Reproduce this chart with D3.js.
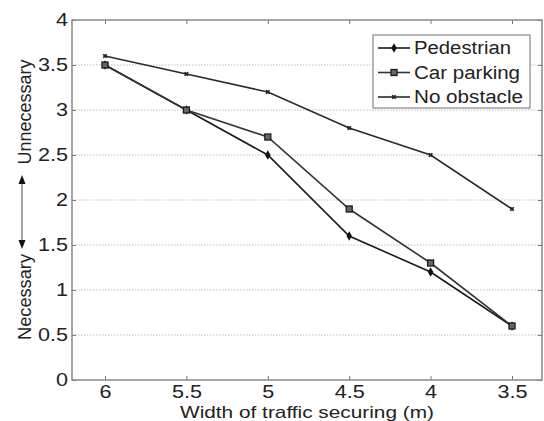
<!DOCTYPE html>
<html><head><meta charset="utf-8">
<script src="https://cdn.jsdelivr.net/npm/d3@7"></script>
<style>body{margin:0;background:#fff}svg{display:block}text{font-family:"Liberation Sans",Arial,sans-serif;fill:#222}</style>
</head><body>
<svg id="c" width="544" height="421"></svg>
<script>
const widths = [6, 5.5, 5, 4.5, 4, 3.5];
const pedestrian = [3.5, 3.0, 2.5, 1.6, 1.2, 0.6];
const carParking = [3.5, 3.0, 2.7, 1.9, 1.3, 0.6];
const noObstacle = [3.6, 3.4, 3.2, 2.8, 2.5, 1.9];
const seriesNames = ["Pedestrian", "Car parking", "No obstacle"];
const yTicks = [0, 0.5, 1, 1.5, 2, 2.5, 3, 3.5, 4];
const xTicks = [6, 5.5, 5, 4.5, 4, 3.5];

const svg = d3.select("#c");
const L = 72, R = 542, T = 20, B = 380;
const SX = 1.2; // horizontal stretch of the original bitmap text
const x = d3.scaleLinear().domain([6, 3.5]).range([105, 512]);
const y = d3.scaleLinear().domain([0, 4]).range([B, T]);

// gridlines
svg.append("g").selectAll("line").data(yTicks.filter(v => v > 0 && v < 4)).join("line")
  .attr("x1", L).attr("x2", R).attr("y1", d => y(d)).attr("y2", d => y(d))
  .attr("stroke", "#bbb").attr("stroke-width", 1).attr("stroke-dasharray", "1.5,1.5");

// axes
const xAxis = svg.append("g").attr("transform", `translate(0,${B})`)
  .call(d3.axisBottom(x).tickValues(xTicks).tickFormat(d3.format("")).tickSize(-4).tickPadding(5));
const xTop = svg.append("g").attr("transform", `translate(0,${T})`)
  .call(d3.axisTop(x).tickValues(xTicks).tickFormat("").tickSize(-4));
const yAxis = svg.append("g").attr("transform", `translate(${L},0)`)
  .call(d3.axisLeft(y).tickValues(yTicks).tickFormat(d3.format("")).tickSize(-4).tickPadding(4));
const yRight = svg.append("g").attr("transform", `translate(${R},0)`)
  .call(d3.axisRight(y).tickValues(yTicks).tickFormat("").tickSize(-4));
[xAxis, xTop, yAxis, yRight].forEach(g => {
  g.select(".domain").remove();
  g.selectAll(".tick line").attr("stroke", "#777");
  g.selectAll("text").attr("font-size", 18).attr("fill", "#222")
    .style("font-family", '"Liberation Sans",Arial,sans-serif');
});
xAxis.selectAll("text").attr("dy", "0.72em").attr("transform", `scale(${SX},1)`);
yAxis.selectAll("text").attr("x", -4 / SX).attr("transform", `scale(${SX},1)`);
svg.append("rect").attr("x", L).attr("y", T).attr("width", R - L).attr("height", B - T)
  .attr("fill", "none").attr("stroke", "#888").attr("stroke-width", 1.5);

// series
const data = [pedestrian, carParking, noObstacle];
const colors = ["#1a1a1a", "#333", "#2a2a2a"];
const line = d3.line().x((d, i) => x(widths[i])).y(d => y(d));
function marker(g, k, cx, cy) {
  if (k === 0) {
    g.append("path").attr("d", d3.symbol(d3.symbolDiamond, 26)())
      .attr("transform", `translate(${cx},${cy})`).attr("fill", "#111");
  } else if (k === 1) {
    g.append("rect").attr("x", cx - 3).attr("y", cy - 3).attr("width", 6).attr("height", 6)
      .attr("fill", "#666").attr("stroke", "#1a1a1a").attr("stroke-width", 1.3);
  } else {
    g.append("path").attr("d", d3.symbol(d3.symbolCross, 14)())
      .attr("transform", `translate(${cx},${cy}) rotate(45)`).attr("fill", "#222");
  }
}
data.forEach((s, k) => {
  const g = svg.append("g");
  g.append("path").datum(s).attr("d", line).attr("fill", "none")
    .attr("stroke", colors[k]).attr("stroke-width", 1.6);
  s.forEach((v, i) => marker(g, k, x(widths[i]), y(v)));
});

// legend
const legendLens = [97, 106, 109];
const lg = svg.append("g");
lg.append("rect").attr("x", 373).attr("y", 35).attr("width", 157).attr("height", 73)
  .attr("fill", "#fff").attr("stroke", "#888").attr("stroke-width", 1.2);
seriesNames.forEach((n, k) => {
  const cy = 48 + k * 24.5;
  lg.append("line").attr("x1", 378).attr("x2", 410).attr("y1", cy).attr("y2", cy)
    .attr("stroke", colors[k]).attr("stroke-width", 1.6);
  marker(lg, k, 394, cy);
  lg.append("text").attr("x", 414).attr("y", cy).attr("dy", "0.36em")
    .attr("font-size", 18).attr("textLength", legendLens[k]).attr("lengthAdjust", "spacingAndGlyphs")
    .text(n);
});

// axis labels
svg.append("text").attr("x", 307).attr("y", 417.5).attr("text-anchor", "middle")
  .attr("font-size", 17).attr("textLength", 254).attr("lengthAdjust", "spacingAndGlyphs")
  .text("Width of traffic securing (m)");
const yl = svg.append("g");
yl.append("text").attr("transform", `translate(31,112) scale(${SX},1) rotate(-90)`).attr("text-anchor", "middle")
  .attr("font-size", 16).attr("textLength", 105).attr("lengthAdjust", "spacingAndGlyphs").text("Unnecessary");
yl.append("text").attr("transform", `translate(31,297) scale(${SX},1) rotate(-90)`).attr("text-anchor", "middle")
  .attr("font-size", 16).attr("textLength", 86).attr("lengthAdjust", "spacingAndGlyphs").text("Necessary");
yl.append("line").attr("x1", 22).attr("x2", 22).attr("y1", 182).attr("y2", 242)
  .attr("stroke", "#888").attr("stroke-width", 1.5);
yl.append("path").attr("d", "M22,175 L18.5,184 L25.5,184 Z").attr("fill", "#111");
yl.append("path").attr("d", "M22,249 L18.5,240 L25.5,240 Z").attr("fill", "#111");
</script>
</body></html>
